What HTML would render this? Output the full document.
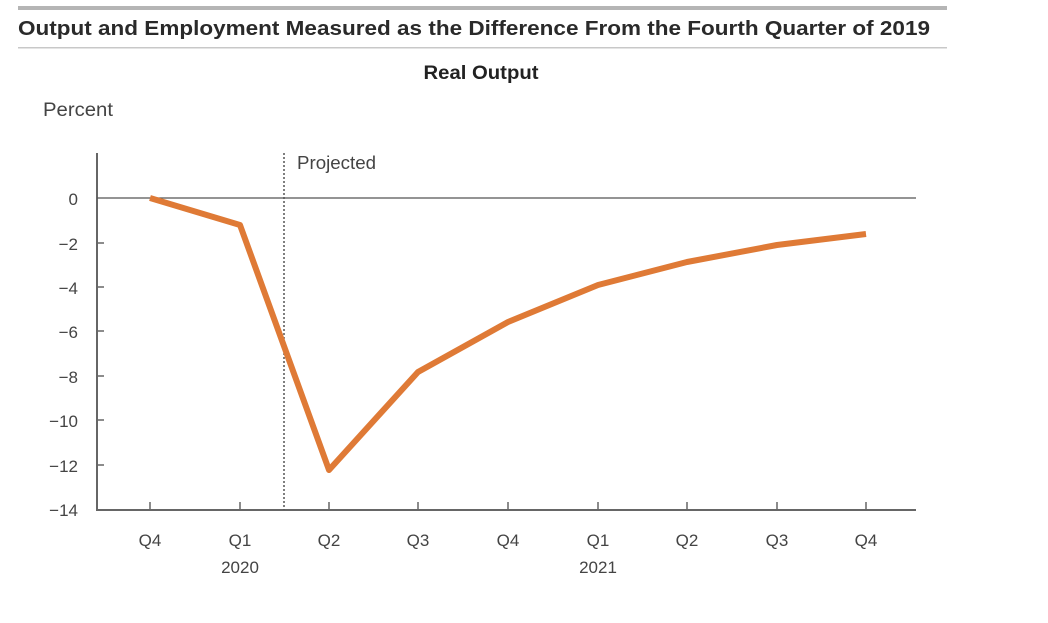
<!DOCTYPE html>
<html><head><meta charset="utf-8"><style>
html,body{margin:0;padding:0;background:#fff;width:1048px;height:623px;overflow:hidden}
svg text{font-family:"Liberation Sans",sans-serif}
</style></head><body>
<svg width="1048" height="623" viewBox="0 0 1048 623" xmlns="http://www.w3.org/2000/svg">
<rect x="18" y="6" width="929" height="4" fill="#b5b5b5"/>
<text x="18" y="35" font-size="20.5" font-weight="bold" fill="#2a2a2a" textLength="912" lengthAdjust="spacingAndGlyphs">Output and Employment Measured as the Difference From the Fourth Quarter of 2019</text>
<rect x="18" y="47" width="929" height="1.5" fill="#c8c8c8"/>
<text x="481" y="79" font-size="19" font-weight="bold" fill="#222" text-anchor="middle" textLength="115" lengthAdjust="spacingAndGlyphs">Real Output</text>
<text x="43" y="116" font-size="19" fill="#444" textLength="70" lengthAdjust="spacingAndGlyphs">Percent</text>
<g stroke="#666" fill="none">
<line x1="97" y1="153" x2="97" y2="511" stroke-width="2"/>
<line x1="97" y1="510" x2="916" y2="510" stroke-width="2"/>
<line x1="97" y1="198" x2="916" y2="198" stroke-width="1.3" stroke="#555"/>
<line x1="284" y1="153" x2="284" y2="510" stroke-width="1.5" stroke="#555" stroke-dasharray="2,2"/>
<g stroke-width="1.5">
<line x1="97" y1="243" x2="104" y2="243"/><line x1="97" y1="287" x2="104" y2="287"/>
<line x1="97" y1="331" x2="104" y2="331"/><line x1="97" y1="376" x2="104" y2="376"/>
<line x1="97" y1="420" x2="104" y2="420"/><line x1="97" y1="465" x2="104" y2="465"/>
<line x1="150" y1="502" x2="150" y2="510"/><line x1="240" y1="502" x2="240" y2="510"/>
<line x1="329" y1="502" x2="329" y2="510"/><line x1="418" y1="502" x2="418" y2="510"/>
<line x1="508" y1="502" x2="508" y2="510"/><line x1="598" y1="502" x2="598" y2="510"/>
<line x1="687" y1="502" x2="687" y2="510"/><line x1="777" y1="502" x2="777" y2="510"/>
<line x1="866" y1="502" x2="866" y2="510"/>
</g></g>
<g font-size="17" fill="#444" text-anchor="end">
<text x="78" y="205">0</text><text x="78" y="250">−2</text><text x="78" y="294">−4</text>
<text x="78" y="338">−6</text><text x="78" y="383">−8</text><text x="78" y="427">−10</text>
<text x="78" y="472">−12</text><text x="78" y="516">−14</text>
</g>
<g font-size="17" fill="#444" text-anchor="middle">
<text x="150" y="546">Q4</text><text x="240" y="546">Q1</text><text x="329" y="546">Q2</text>
<text x="418" y="546">Q3</text><text x="508" y="546">Q4</text><text x="598" y="546">Q1</text>
<text x="687" y="546">Q2</text><text x="777" y="546">Q3</text><text x="866" y="546">Q4</text>
<text x="240" y="573">2020</text><text x="598" y="573">2021</text>
</g>
<text x="297" y="169" font-size="18" fill="#444" textLength="79" lengthAdjust="spacingAndGlyphs">Projected</text>
<polyline fill="none" stroke="#df7a36" stroke-width="6" stroke-linejoin="round" points="150,198 240,225 329,470 418,372 508,322 598,285 687,262 777,245 866,234"/>
</svg>
</body></html>
